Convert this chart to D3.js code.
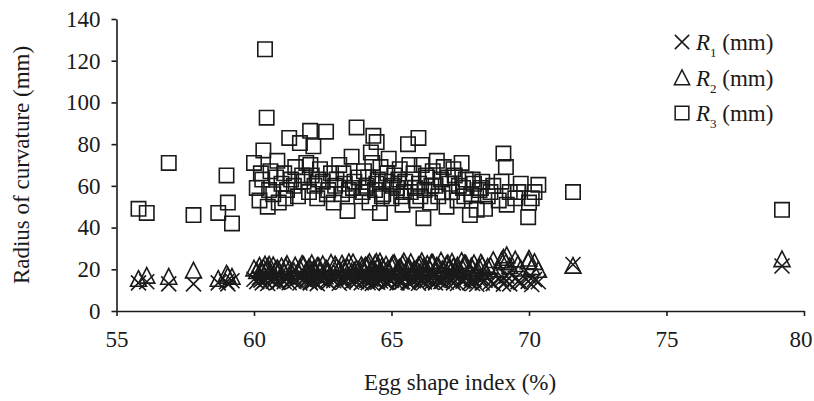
<!DOCTYPE html>
<html>
<head>
<meta charset="utf-8">
<script src="https://cdn.jsdelivr.net/npm/d3@7"></script>
<style>
  html, body { margin: 0; padding: 0; background: #fff; }
  svg { display: block; }
  text { font-family: "Liberation Serif", "Times New Roman", serif; fill: #1a1a1a; }
</style>
</head>
<body>
<div id="chart"></div>
<script>
// egg shape index (%) of each egg, and its three radii of curvature (mm)
const esi = [
  55.8, 56.1, 56.9, 57.8, 58.7, 59.0, 59.05, 59.2,
  60.0, 60.1, 60.2, 60.3, 60.34, 60.4, 60.46, 60.5, 60.6, 60.7,
  60.8, 60.9, 61.0, 61.1, 61.2, 61.28, 61.35, 61.5, 61.6, 61.67,
  61.8, 61.9, 62.0, 62.04, 62.1, 62.16, 62.2, 62.3, 62.4, 62.5,
  62.62, 62.7, 62.8, 62.9, 63.0, 63.1, 63.2, 63.3, 63.4, 63.55,
  63.6, 63.73, 63.8, 63.9, 64.0, 64.1, 64.2, 64.3, 64.34, 64.4,
  64.46, 64.5, 64.58, 64.6, 64.7, 64.8, 64.9, 65.0, 65.1, 65.2,
  65.3, 65.4, 65.5, 65.6, 65.7, 65.8, 65.9, 65.98, 66.0, 66.1,
  66.16, 66.2, 66.3, 66.4, 66.5, 66.6, 66.7, 66.8, 66.9, 67.0,
  67.1, 67.2, 67.3, 67.4, 67.55, 67.6, 67.7, 67.85, 67.9, 68.0,
  68.1, 68.2, 68.3, 68.4, 68.5, 68.7, 68.9, 69.07, 69.16, 69.19,
  69.3, 69.5, 69.7, 69.97, 70.0, 70.1, 70.2, 70.34,
  60.25, 60.55, 60.85, 61.15, 61.45, 61.75, 62.05, 62.35, 62.65, 62.95,
  63.25, 63.45, 63.65, 63.95, 64.15, 64.25, 64.45, 64.65, 64.85, 65.05,
  65.25, 65.45, 65.65, 65.85, 66.05, 66.25, 66.45, 66.65, 66.85, 67.05,
  67.25, 67.45, 67.65, 67.95, 68.25, 68.6, 69.0, 69.6, 64.05, 65.35,
  71.6, 79.2
];
const r1 = [
  13.5, 14.0, 13.0, 13.0, 13.5, 14.0, 13.0, 14.5,
  15.2, 14.1, 16.0, 13.5, 15.8, 14.6, 16.4, 13.2, 15.0, 14.3,
  16.8, 13.9, 15.5, 14.0, 16.2, 13.6, 15.1, 14.7, 16.5, 13.4,
  15.3, 14.4, 16.1, 13.8, 15.6, 14.2, 16.9, 13.1, 15.4, 14.8,
  16.3, 13.7, 15.9, 14.5, 16.6, 13.3, 15.2, 14.9, 17.1, 13.9,
  15.7, 14.1, 16.4, 13.5, 15.0, 14.6, 16.7, 13.2, 15.5, 14.3,
  16.0, 13.8, 15.8, 14.4, 17.0, 13.6, 15.3, 14.7, 16.2, 13.4,
  15.6, 14.0, 16.8, 13.7, 15.1, 14.5, 16.5, 13.3, 15.9, 14.2,
  16.1, 13.9, 15.4, 14.8, 16.9, 13.5, 15.7, 14.1, 16.3, 13.8,
  15.2, 14.6, 16.6, 13.2, 15.0, 14.3, 16.0, 13.6, 15.5, 14.9,
  12.8, 15.8, 13.4, 14.7, 16.2, 13.1, 15.3, 12.9, 14.4, 16.7,
  13.0, 15.6, 13.7, 14.2, 16.4, 12.7, 15.1, 14.0,
  14.8, 16.3, 13.7, 15.9, 14.2, 16.6, 13.5, 15.7, 14.4, 16.0,
  13.9, 15.4, 14.7, 16.5, 13.6, 15.2, 14.0, 16.2, 13.8, 15.6,
  14.5, 16.8, 13.4, 15.3, 14.9, 16.4, 13.7, 15.0, 14.3, 16.1,
  13.5, 15.8, 14.6, 13.2, 15.4, 13.9, 15.0, 14.1, 15.5, 13.9,
  22.3, 21.6
];
const r2 = [
  15.5, 17.0, 16.5, 19.5, 15.5, 18.0, 17.0, 16.5,
  20.5, 19.2, 21.8, 18.6, 20.9, 22.4, 19.5, 21.2, 18.9, 22.0,
  20.1, 19.7, 21.5, 18.4, 22.6, 20.3, 19.0, 21.9, 18.8, 20.7,
  22.2, 19.4, 21.1, 18.5, 23.0, 20.0, 19.3, 21.7, 18.7, 22.5,
  20.6, 19.1, 23.2, 18.3, 21.3, 20.2, 22.8, 19.6, 21.0, 18.9,
  23.4, 20.4, 19.8, 22.1, 18.6, 21.6, 23.6, 19.9, 20.8, 22.9,
  18.2, 21.4, 23.8, 19.2, 20.5, 22.3, 18.8, 21.8, 23.1, 19.5,
  20.9, 22.7, 18.4, 21.2, 23.5, 19.7, 20.3, 22.0, 18.7, 24.0,
  21.0, 19.4, 22.6, 20.1, 23.3, 18.9, 21.7, 24.2, 19.6, 22.4,
  20.6, 23.7, 19.0, 21.9, 24.1, 20.2, 22.8, 19.3, 21.5, 23.0,
  18.5, 20.8, 22.2, 19.1, 21.3, 24.5, 20.0, 25.6, 23.4, 26.8,
  21.6, 24.8, 20.4, 23.9, 25.2, 21.1, 23.6, 19.8,
  19.8, 22.3, 20.6, 21.4, 19.1, 22.7, 20.2, 21.6, 19.6, 22.4,
  20.8, 23.5, 19.4, 21.2, 22.6, 20.0, 23.7, 21.5, 19.9, 22.8,
  20.4, 23.9, 21.0, 19.3, 22.5, 20.7, 23.2, 21.8, 20.1, 23.0,
  21.4, 19.7, 22.9, 20.5, 23.3, 21.7, 24.3, 22.6, 21.9, 20.6,
  21.8, 24.9
];
const r3 = [
  49, 47, 71, 46, 47, 65, 52, 42,
  71, 59, 53, 63, 77, 125.5, 92.7, 50, 67, 56,
  64, 52, 61, 66, 58, 83, 63, 69, 55, 80.5,
  62, 71, 57, 86.4, 65, 79, 60, 54, 68, 62,
  86, 58, 66, 52, 63, 70, 56, 61, 48, 74,
  59, 88, 64, 55, 67, 60, 52, 71, 84, 58,
  81, 63, 47, 69, 56, 62, 73, 54, 65, 59,
  68, 51, 62, 80, 57, 66, 53, 83, 61, 70,
  44.5, 58, 64, 52, 67, 60, 55, 63, 69, 50,
  61, 57, 65, 53, 71, 59, 63, 46, 56, 61,
  48.5, 58, 62, 49, 55, 60, 53, 75.5, 69, 51,
  57, 54, 61, 45, 52, 54, 57, 60.5,
  66, 58, 72, 54, 60, 65, 70, 63, 56, 60,
  66, 58, 62, 57, 64, 76, 61, 55, 66, 60,
  63, 57, 70, 59, 55, 65, 60, 72, 57, 64,
  68, 60, 55, 63, 59, 57, 62, 57, 59, 55,
  57, 48.5
];

const xTicks = [55, 60, 65, 70, 75, 80];
const yTicks = [0, 20, 40, 60, 80, 100, 120, 140];
const seriesNames = ['1', '2', '3'];   // subscripts of R in the legend

const W = 814, H = 401;
const ink = '#1a1a1a';

const svg = d3.select('#chart').append('svg')
  .attr('width', W).attr('height', H)
  .attr('viewBox', `0 0 ${W} ${H}`);

const x = d3.scaleLinear().domain([55, 80]).range([116.5, 804]);
const y = d3.scaleLinear().domain([0, 140]).range([311, 19]);

// marker shapes, centred on 0,0
const sq = 7.2;
const squarePath = `M${-sq},${-sq}H${sq}V${sq}H${-sq}Z`;
const tri = 8;
const trianglePath = `M0,${-tri}L${tri},${tri * 0.95}L${-tri},${tri * 0.95}Z`;
const cr = 7.5;
const crossPath = `M${-cr},${-cr}L${cr},${cr}M${cr},${-cr}L${-cr},${cr}`;
const shapes = [crossPath, trianglePath, squarePath];

const series = [r1, r2, r3];

// axes
const yAxis = svg.append('g')
  .attr('transform', `translate(${x(55)},0)`)
  .call(d3.axisLeft(y).tickValues(yTicks).tickSize(5).tickSizeOuter(0).tickPadding(11));
const xAxis = svg.append('g')
  .attr('transform', `translate(0,${y(0)})`)
  .call(d3.axisBottom(x).tickValues(xTicks).tickSize(5).tickSizeOuter(0).tickPadding(15));

[xAxis, yAxis].forEach(g => {
  g.select('.domain').attr('stroke', ink).attr('stroke-width', 1.6);
  g.selectAll('.tick line').attr('stroke', ink).attr('stroke-width', 1.6);
  g.selectAll('.tick text')
    .attr('fill', ink)
    .attr('font-family', '"Liberation Serif", "Times New Roman", serif')
    .attr('font-size', 23);
});
// last x label sits flush with the right edge, as in the plate
xAxis.selectAll('.tick text')
  .filter(d => d === 80)
  .attr('text-anchor', 'end')
  .attr('x', 8);

// points
series.forEach((vals, s) => {
  svg.append('g')
    .selectAll('path')
    .data(esi.map((e, i) => [e, vals[i]]))
    .join('path')
    .attr('d', shapes[s])
    .attr('transform', d => `translate(${x(d[0])},${y(d[1])})`)
    .attr('fill', 'none')
    .attr('stroke', ink)
    .attr('stroke-width', 1.6)
    .attr('stroke-linejoin', 'miter');
});

// axis titles
svg.append('text')
  .attr('x', 460).attr('y', 390)
  .attr('text-anchor', 'middle')
  .attr('font-size', 23)
  .text('Egg shape index (%)');

svg.append('text')
  .attr('transform', 'translate(29,165) rotate(-90)')
  .attr('text-anchor', 'middle')
  .attr('font-size', 23)
  .text('Radius of curvature (mm)');

// legend
const legend = svg.append('g').attr('transform', 'translate(682,0)');
seriesNames.forEach((n, i) => {
  const cy = 42 + i * 35.5;
  const scale = 0.95;
  legend.append('path')
    .attr('d', shapes[i])
    .attr('transform', `translate(0,${cy}) scale(${scale})`)
    .attr('fill', 'none')
    .attr('stroke', ink)
    .attr('stroke-width', 1.6);
  const t = legend.append('text')
    .attr('x', 14).attr('y', cy + 8)
    .attr('font-size', 23);
  t.append('tspan').attr('font-style', 'italic').text('R');
  t.append('tspan').attr('font-size', 13).attr('dy', 7).text(n);
  t.append('tspan').attr('dy', -7).text(' (mm)');
});
</script>
</body>
</html>
